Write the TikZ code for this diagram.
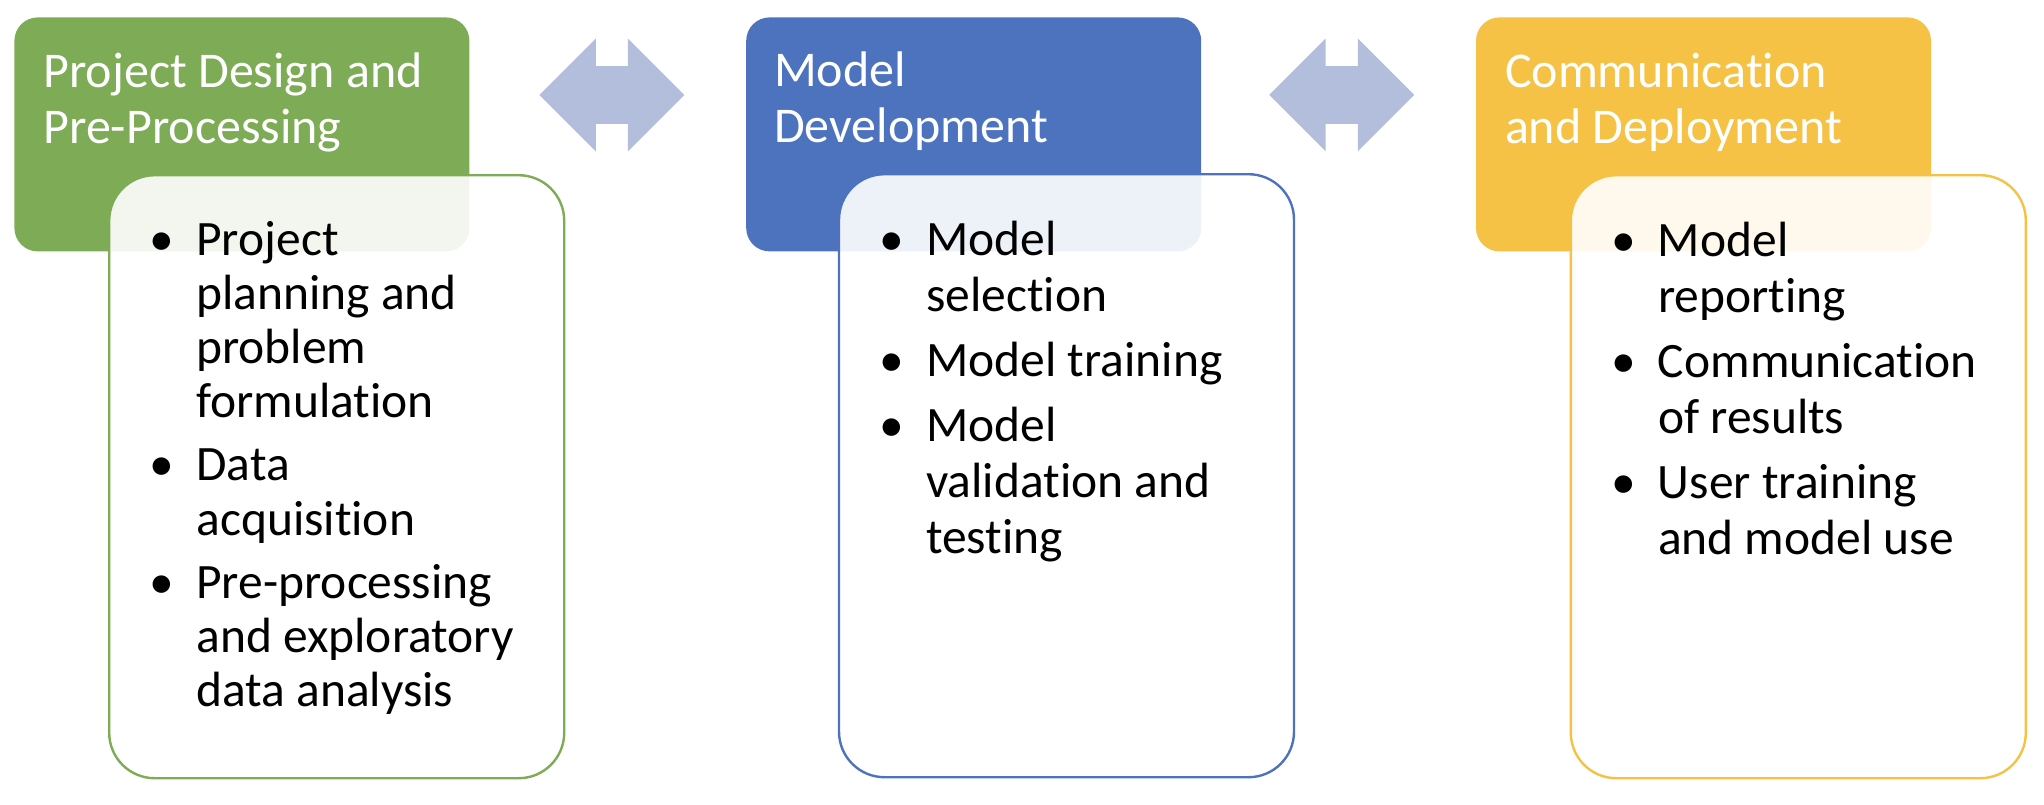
\documentclass[tikz,border=0pt]{standalone}
\usepackage{fontspec}
\setmainfont{Carlito}[Ligatures=NoCommon]
\usetikzlibrary{positioning, shapes.arrows}

\definecolor{designgreen}{HTML}{7EAB55}
\definecolor{develblue}{HTML}{4E73BE}
\definecolor{deployyellow}{HTML}{F5C245}
\definecolor{linkblue}{HTML}{B3BEDC}

\newcommand{\bul}{\leavevmode\llap{\textbullet\hspace{11pt}}}

\begin{document}
\begin{tikzpicture}
	\tikzstyle{head} = [rectangle, rounded corners=11.7pt, minimum width=227.5pt, minimum height=117pt, inner sep=0pt, draw=none]
	\tikzstyle{headtext} = [anchor=base west, text width=205pt, align=flush left, inner sep=0pt, text=white, font=\fontsize{25}{28}\selectfont]
	\tikzstyle{body} = [rectangle, rounded corners=22.75pt, minimum width=227.5pt, minimum height=301.5pt, inner sep=0pt, anchor=north west, fill=white, fill opacity=0.9, line width=1.2pt]
	\tikzstyle{itemtext} = [anchor=base west, text width=180pt, align=flush left, inner sep=0pt, font=\fontsize{24.75}{28}\selectfont]
	\tikzstyle{link} = [double arrow, fill=linkblue, draw=none, inner xsep=0pt, inner ysep=14.25pt, minimum height=72.5pt, double arrow head extend=13.75pt, double arrow tip angle=90]

	\useasboundingbox (0,0) rectangle (1022pt,-402pt);

	% headers
	\node[head, anchor=north west, fill=designgreen] (hdesign) at (7pt,-8.5pt) {};
	\node[head, fill=develblue, right=138pt of hdesign] (hdevel) {};
	\node[head, fill=deployyellow, right=137pt of hdevel] (hdeploy) {};

	% arrows between the stages
	\node[link, right=34.5pt of hdesign, yshift=19.75pt] (ldesign) {};
	\node[link, right=33.5pt of hdevel, yshift=19.75pt] (ldevel) {};

	% bodies
	\node[body, draw=designgreen, xshift=47pt, yshift=-78.5pt] (bdesign) at (hdesign.north west) {};
	\node[body, draw=develblue, xshift=46pt, yshift=-78pt] (bdevel) at (hdevel.north west) {};
	\node[body, draw=deployyellow, xshift=47pt, yshift=-78.5pt] (bdeploy) at (hdeploy.north west) {};

	\node[headtext, xshift=14.5pt, yshift=-35pt] (tdesign) at (hdesign.north west) {Project Design and\\Pre-Processing};
	\node[headtext, xshift=14pt, yshift=-34.5pt] (tdevel) at (hdevel.north west) {Model\\Development};
	\node[headtext, xshift=14.5pt, yshift=-35pt] (tdeploy) at (hdeploy.north west) {Communication\\and Deployment};

	\node[itemtext, font=\fontsize{24.75}{27.1}\selectfont, xshift=44pt, yshift=-40.5pt] (idesign) at (bdesign.north west)
		{\bul Project\\planning and\\problem\\formulation\\[4.5pt]\bul Data\\acquisition\\[4.5pt]\bul Pre-processing\\and exploratory\\data analysis};
	\node[itemtext, xshift=44pt, yshift=-41pt] (idevel) at (bdevel.north west)
		{\bul Model\\selection\\[4.5pt]\bul Model training\\[4.5pt]\bul Model\\validation and\\testing};
	\node[itemtext, xshift=44pt, yshift=-41pt] (ideploy) at (bdeploy.north west)
		{\bul Model\\reporting\\[4.5pt]\bul Communication\\of results\\[4.5pt]\bul User training\\and model use};
\end{tikzpicture}
\end{document}
